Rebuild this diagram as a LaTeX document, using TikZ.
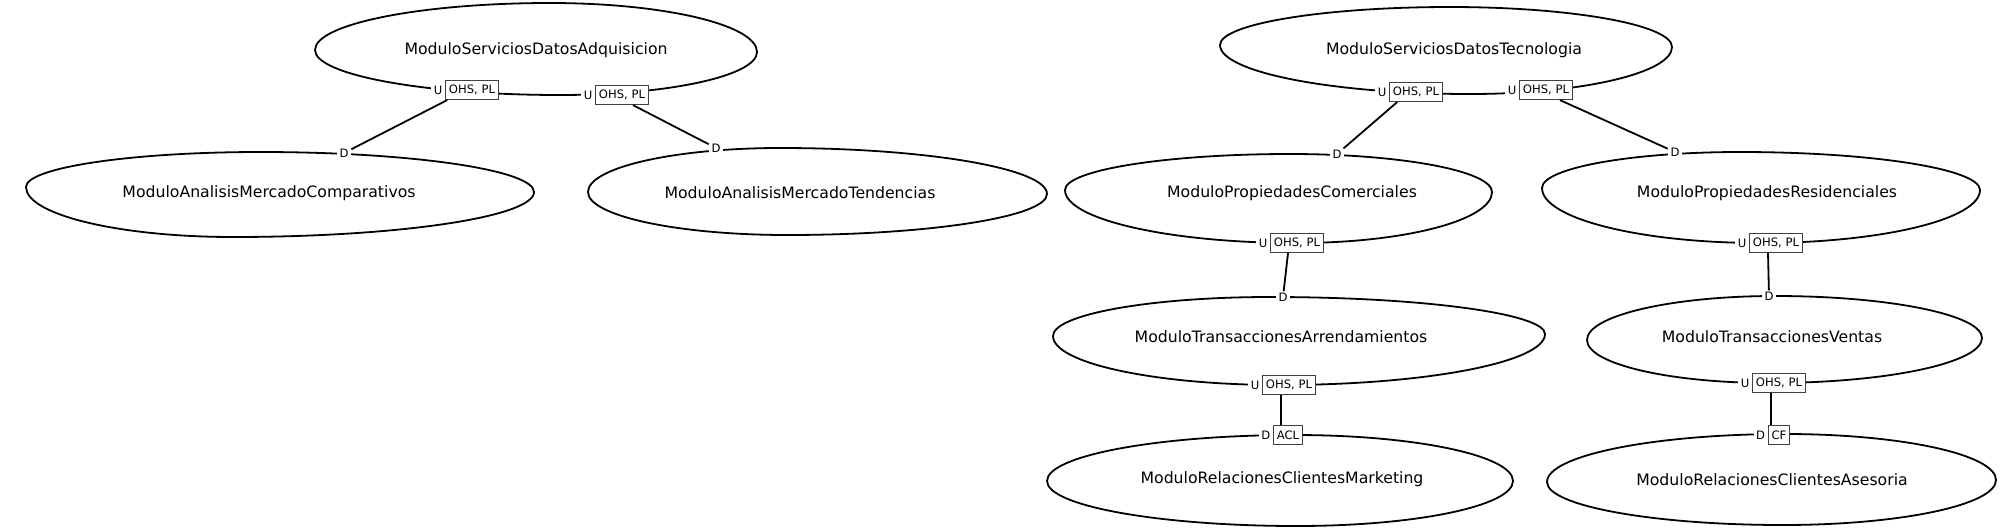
\documentclass[tikz,border=0pt]{standalone}
\usepackage{fontspec}
\setmainfont{DejaVu Sans}
\usetikzlibrary{calc}
\newcommand\ctxoval[8]{%
  \draw[blob] (#1,#2)
    .. controls ({#1},{#2-0.552*(#2-#4)}) and ({#3-0.552*(#3-#1)},{#4}) .. (#3,#4)
    .. controls ({#3+0.552*(#5-#3)},{#4}) and ({#5},{#6-0.552*(#6-#4)}) .. (#5,#6)
    .. controls ({#5},{#6+0.552*(#8-#6)}) and ({#7+0.552*(#5-#7)},{#8}) .. (#7,#8)
    .. controls ({#7-0.552*(#7-#1)},{#8}) and ({#1},{#2+0.552*(#8-#2)}) .. cycle;}
\begin{document}
\begin{tikzpicture}[x=1pt,y=-1pt,
  blob/.style={draw=black,line width=1.8pt},
  ctxname/.style={inner sep=0pt,font=\fontsize{15.7}{18}\selectfont},
  rolelbl/.style={fill=white,inner xsep=2.6pt,inner ysep=1.2pt,font=\fontsize{11.6}{13}\selectfont},
  patbox/.style={draw=black!75,line width=1.2pt,fill=white,inner xsep=3.2pt,inner ysep=0pt,minimum height=19pt,font=\fontsize{11.6}{13}\selectfont},
  conn/.style={draw=black,line width=1.8pt}]
\useasboundingbox (0,0) rectangle (2000,531);

% ---- context shapes: left, top, right, bottom ----
\ctxoval{315}{50}{550}{3}{757}{52}{560}{95}
\ctxoval{26}{187}{260}{152}{534}{192}{233}{237}
\ctxoval{588}{192}{780}{148}{1047}{194}{787}{235}
\ctxoval{1220}{45}{1450}{7}{1672}{47}{1470}{94}
\ctxoval{1065}{190}{1290}{154}{1492}{192}{1297}{243}
\ctxoval{1542}{188}{1740}{152}{1980}{190}{1760}{243}
\ctxoval{1053}{336}{1270}{297}{1545}{334}{1280}{385}
\ctxoval{1587}{340}{1775}{296}{1982}{338}{1770}{383}
\ctxoval{1047}{481}{1295}{435}{1513}{481}{1297}{526}
\ctxoval{1547}{482}{1785}{434}{1996}{480}{1783}{525}

% ---- context names ----
\node[ctxname] (adq) at (536,50) {ModuloServiciosDatosAdquisicion};
\node[ctxname] (comp) at (269,193) {ModuloAnalisisMercadoComparativos};
\node[ctxname] (tend) at (800,193) {ModuloAnalisisMercadoTendencias};
\node[ctxname] (tec) at (1454,50) {ModuloServiciosDatosTecnologia};
\node[ctxname] (pcom) at (1292,193) {ModuloPropiedadesComerciales};
\node[ctxname] (pres) at (1767,193) {ModuloPropiedadesResidenciales};
\node[ctxname] (tarr) at (1281,337) {ModuloTransaccionesArrendamientos};
\node[ctxname] (tven) at (1772,337) {ModuloTransaccionesVentas};
\node[ctxname] (rmar) at (1282,479) {ModuloRelacionesClientesMarketing};
\node[ctxname] (rase) at (1772,480) {ModuloRelacionesClientesAsesoria};

% ---- role labels and pattern boxes ----
\node[patbox] (bA1) at (472,90) {OHS, PL};
\node[rolelbl,anchor=east] (uA1) at (bA1.west) {U};
\node[patbox] (bA2) at (622,95) {OHS, PL};
\node[rolelbl,anchor=east] (uA2) at (bA2.west) {U};
\node[rolelbl] (dB) at (344,153) {D};
\node[rolelbl] (dC) at (716,148) {D};

\node[patbox] (bT1) at (1416,92) {OHS, PL};
\node[rolelbl,anchor=east] (uT1) at (bT1.west) {U};
\node[patbox] (bT2) at (1546,90) {OHS, PL};
\node[rolelbl,anchor=east] (uT2) at (bT2.west) {U};

\node[rolelbl] (dPC) at (1337,154) {D};
\node[patbox] (bPC) at (1297,243) {OHS, PL};
\node[rolelbl,anchor=east] (uPC) at (bPC.west) {U};

\node[rolelbl] (dPR) at (1675,152) {D};
\node[patbox] (bPR) at (1776,243) {OHS, PL};
\node[rolelbl,anchor=east] (uPR) at (bPR.west) {U};

\node[rolelbl] (dTA) at (1283,297) {D};
\node[patbox] (bTA) at (1289,385) {OHS, PL};
\node[rolelbl,anchor=east] (uTA) at (bTA.west) {U};

\node[rolelbl] (dTV) at (1769,296) {D};
\node[patbox] (bTV) at (1779,383) {OHS, PL};
\node[rolelbl,anchor=east] (uTV) at (bTV.west) {U};

\node[patbox] (bRM) at (1288,435) {ACL};
\node[rolelbl,anchor=east] (dRM) at (bRM.west) {D};
\node[patbox] (bRA) at (1779,435) {CF};
\node[rolelbl,anchor=east] (dRA) at (bRA.west) {D};

% ---- connectors ----
\draw[conn] ($(bA1.south west)+(2,0)$) -- (dB);
\draw[conn] ($(bA2.south)+(11,0)$) -- (dC);
\draw[conn] ($(bT1.south west)+(8,0)$) -- (dPC);
\draw[conn] ($(bT2.south)+(14,0)$) -- (dPR);
\draw[conn] ($(bPC.south)+(-9,0)$) -- (dTA);
\draw[conn] ($(bPR.south)+(-8,0)$) -- (dTV);
\draw[conn] ($(bTA.south)+(-8,0)$) -- ($(bRM.north)+(-7,0)$);
\draw[conn] ($(bTV.south)+(-8,0)$) -- ($(bRA.north)+(-8,0)$);
\end{tikzpicture}
\end{document}
